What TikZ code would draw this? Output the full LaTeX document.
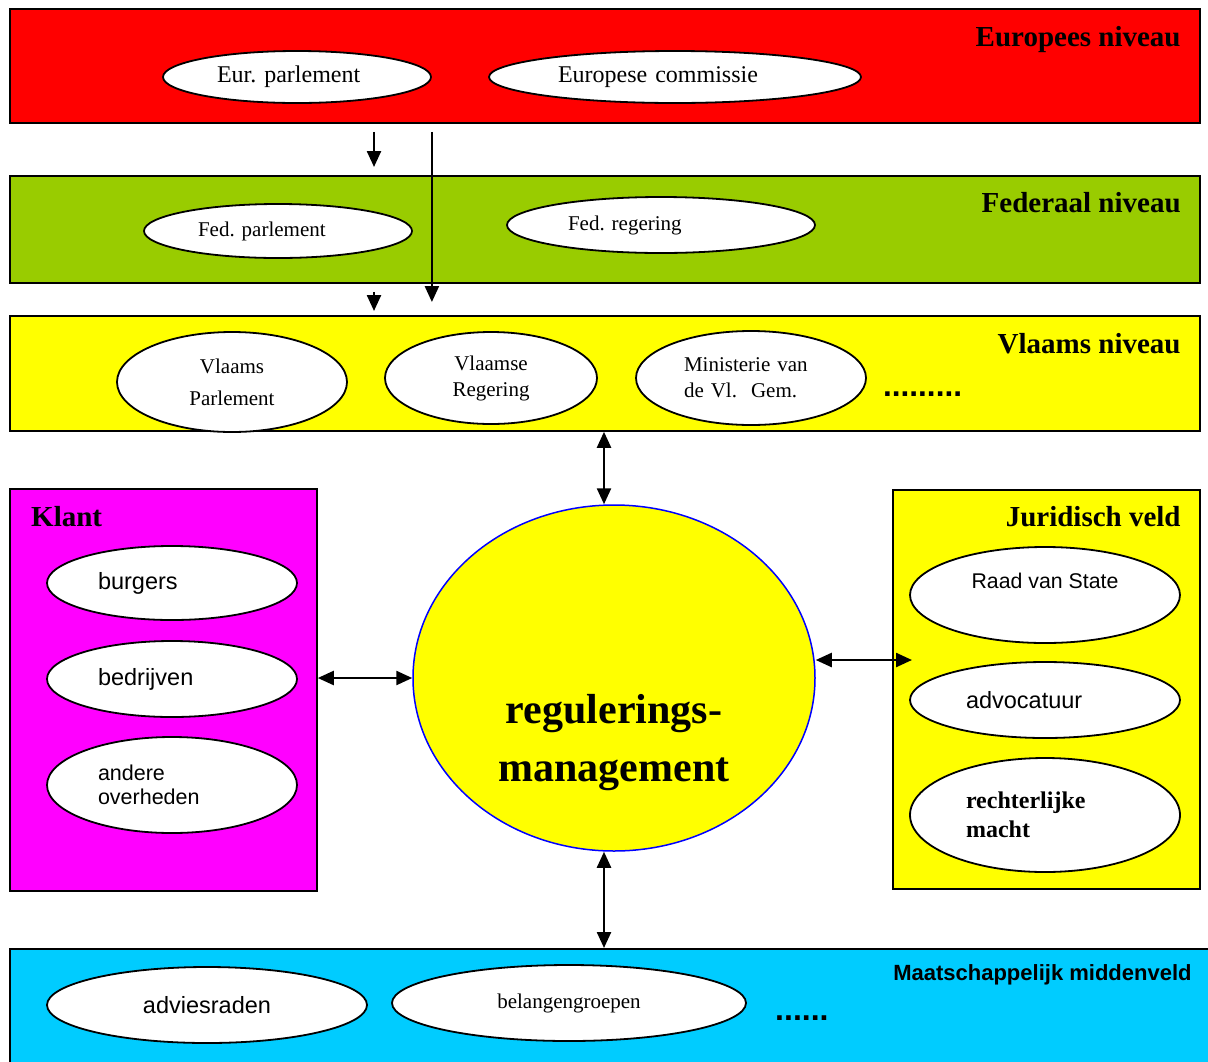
\documentclass[tikz,border=0pt]{standalone}
\usepackage{fontspec}
\setmainfont{Liberation Serif}
\setsansfont{Liberation Sans}
\usepackage{tikz}
\usetikzlibrary{arrows.meta,positioning,shapes.geometric,calc}
\definecolor{euRed}{HTML}{FF0000}
\definecolor{fedGreen}{HTML}{99CC00}
\definecolor{vlYellow}{HTML}{FFFF00}
\definecolor{klMagenta}{HTML}{FF00FF}
\definecolor{midCyan}{HTML}{00CCFF}
\definecolor{rmBlue}{HTML}{0000FF}
\frenchspacing

\begin{document}
\begin{tikzpicture}[x=1pt,y=-1pt,
  level/.style={draw,line width=1.8pt,anchor=north west,inner sep=0pt},
  title/.style={font=\bfseries\fontsize{29}{30}\selectfont,inner sep=0pt},
  org/.style={ellipse,draw,fill=white,line width=1.8pt,inner sep=0pt},
  rm/.style={font=\fontsize{21}{26}\selectfont},
  ss/.style={font=\sffamily\fontsize{23.5}{24}\selectfont},
  more/.style={anchor=base west,inner sep=0pt,font=\sffamily\bfseries\fontsize{32}{32}\selectfont},
  arrow/.style={-{Triangle[length=16pt,width=14pt]},line width=2.4pt},
  dbl/.style={arrow,{Triangle[length=16pt,width=14pt]}-{Triangle[length=16pt,width=14pt]}}
]
\useasboundingbox (0,0) rectangle (1208,1061);
% levels
\node[level,fill=euRed,minimum width=1190pt,minimum height=114pt] (eu) at (9,8) {};
\node[level,fill=fedGreen,minimum width=1190pt,minimum height=107pt] (fed) at (9,175) {};
\node[level,fill=vlYellow,minimum width=1190pt,minimum height=115pt] (vl) at (9,315) {};
\node[level,fill=klMagenta,minimum width=307pt,minimum height=402pt] (klant) at (9,488) {};
\node[level,fill=vlYellow,minimum width=307pt,minimum height=399pt] (jur) at (892,489) {};
\node[level,fill=midCyan,minimum width=1210pt,minimum height=120pt] (mid) at (9,948) {};
\node[title,anchor=base east] (eutitle) at ([xshift=-20pt,yshift=-38pt]eu.north east) {Europees niveau};
\node[title,anchor=base east] (fedtitle) at ([xshift=-20pt,yshift=-37pt]fed.north east) {Federaal niveau};
\node[title,anchor=base east] (vltitle) at ([xshift=-20pt,yshift=-38pt]vl.north east) {Vlaams niveau};
\node[title,anchor=base east] (jurtitle) at ([xshift=-20pt,yshift=-37pt]jur.north east) {Juridisch veld};
\node[title,anchor=base west] (klanttitle) at ([xshift=22pt,yshift=-38pt]klant.north west) {Klant};
\node[anchor=base east,inner sep=0pt,font=\sffamily\bfseries\fontsize{22}{24}\selectfont] (midtitle)
  at ([xshift=-29pt,yshift=-32pt]mid.north east) {Maatschappelijk middenveld};
% europa
\node[org,rm,font=\fontsize{24}{26}\selectfont,minimum width=268pt,minimum height=52pt,text width=160pt,align=left] (epar) at (297,77) {Eur. parlement};
\node[org,rm,font=\fontsize{24}{26}\selectfont,minimum width=372pt,minimum height=52pt,text width=234pt,align=left] (ecom) at (675,77) {Europese commissie};
% federaal
\node[org,rm,minimum width=268pt,minimum height=54pt,text width=160pt,align=left] (fpar) at (278,231) {Fed. parlement};
\node[org,rm,minimum width=308pt,minimum height=56pt,text width=186pt,align=left] (freg) at (661,225) {Fed. regering};
% vlaams
\node[org,rm,font=\fontsize{21}{32}\selectfont,minimum width=230pt,minimum height=100pt,align=center] (vpar) at (232,382) {Vlaams\\Parlement};
\node[org,rm,minimum width=212pt,minimum height=92pt,align=center] (vreg) at (491,378) {Vlaamse\\Regering};
\node[org,rm,minimum width=230pt,minimum height=94pt,text width=134pt,align=left] (mini) at (751,378) {Ministerie van\\de Vl.\ \ Gem.};
\node[more,font=\sffamily\bfseries\fontsize{31.5}{32}\selectfont] (vdots) at (883,396) {.........};
% klant
\node[org,ss,minimum width=250pt,minimum height=74pt,text width=148pt,align=left] (burg) at (172,583) {burgers};
\node[org,ss,minimum width=250pt,minimum height=76pt,text width=148pt,align=left] (bedr) at (172,679) {bedrijven};
\node[org,ss,font=\sffamily\fontsize{21.5}{24}\selectfont,minimum width=250pt,minimum height=96pt,text width=148pt,align=left] (ando) at (172,785) {andere\\overheden};
% juridisch
\node[org,ss,font=\sffamily\fontsize{21.3}{28}\selectfont,minimum width=270pt,minimum height=96pt,align=center] (raad) at (1045,595) {Raad van State\\\mbox{}};
\node[org,ss,minimum width=270pt,minimum height=76pt,text width=158pt,align=left] (advo) at (1045,700) {advocatuur};
\node[org,font=\bfseries\fontsize{24}{29}\selectfont,minimum width=270pt,minimum height=114pt,text width=158pt,align=left] (rech) at (1045,815) {rechterlijke\\macht};
% middenveld
\node[org,ss,minimum width=320pt,minimum height=76pt,align=center] (advi) at (207,1005) {adviesraden};
\node[org,rm,minimum width=354pt,minimum height=76pt,align=center] (bela) at (569,1003) {belangengroepen};
\node[more] (mdots) at (775,1020) {......};
% reguleringsmanagement
\node[ellipse,draw=rmBlue,fill=vlYellow,line width=1.5pt,minimum width=402pt,minimum height=346pt] (mgmt) at (614,678) {};
\node[font=\bfseries\fontsize{42}{58}\selectfont,align=center,inner sep=0pt] (mgmtlbl) at (614,743) {regulerings-\\management};
% connectors
\draw[arrow,shorten <=8pt,shorten >=8pt] ([xshift=365pt]eu.south west) -- ([xshift=365pt]fed.north west);
\draw[arrow,shorten <=8pt,shorten >=13pt] (eu.south -| epar.east) -- (vl.north -| epar.east);
\draw[arrow,shorten <=8pt,shorten >=4pt] ([xshift=365pt]fed.south west) -- ([xshift=365pt]vl.north west);
\draw[dbl] ([xshift=595pt]vl.south west) -- ([xshift=595pt]vl.south west |- mgmt.north);
\draw[dbl] ([xshift=595pt]mid.north west |- mgmt.south) -- ([xshift=595pt]mid.north west);
\draw[dbl] (klant.east |- mgmt.west) -- (mgmt.west);
\draw[dbl] ($(mgmt.east)+(0,-18)$) -- ($(mgmt.east -| jur.west)+(20,-18)$);
\end{tikzpicture}
\end{document}
